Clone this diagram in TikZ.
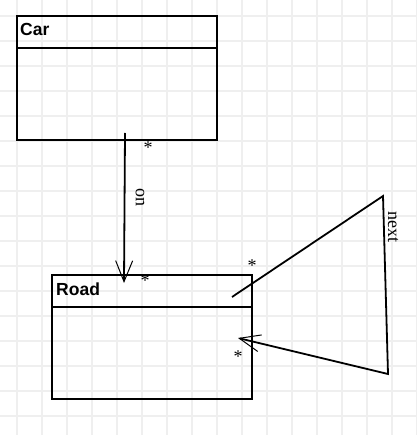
\documentclass[tikz,border=0pt]{standalone}
\usepackage{fontspec}
\setmainfont{Liberation Serif}
\newfontfamily\umlsans{Liberation Sans}
\usetikzlibrary{arrows.meta}
\definecolor{gridgray}{RGB}{239,239,239}
\tikzset{umlbox/.style={draw, line width=2pt, minimum width=200pt, minimum height=124pt, inner sep=0pt, anchor=north west},
         umltitle/.style={anchor=base west, inner sep=0pt, font=\umlsans\bfseries\fontsize{17.5}{20}\selectfont},
         umlsep/.style={line width=2pt},
         assoc/.style={line width=1.8pt, -{Straight Barb[length=21pt, width=17pt, line width=1pt]}},
         rolelabel/.style={inner sep=0pt, rotate=-90, font=\fontsize{18}{20}\selectfont},
         multlabel/.style={inner sep=0pt, anchor=base, font=\fontsize{18}{20}\selectfont}}

\begin{document}
\begin{tikzpicture}[x=1pt, y=-1pt]
  \useasboundingbox (0,0) rectangle (416,435);
  %
  % background grid
  \foreach \gx in {17,42,...,417}
    \draw[gridgray, line width=1.6pt] (\gx,0) -- (\gx,435);
  \foreach \gy in {16,41,...,416}
    \draw[gridgray, line width=1.6pt] (0,\gy) -- (416,\gy);
  %
  % the two classes
  \node[umlbox] (car) at (16,15) {};
  \node[umlbox] (road) at (51,274) {};
  \node[umltitle] (cartitle) at (20,36) {Car};
  \node[umltitle] (roadtitle) at (56,295) {Road};
  \draw[umlsep] ([yshift=-33pt]car.north west) -- ([yshift=-33pt]car.north east);
  \draw[umlsep] ([yshift=-33pt]road.north west) -- ([yshift=-33pt]road.north east);
  %
  % association car -> road
  \draw[assoc] ([xshift=8pt, yshift=8pt]car.south) -- ([xshift=-28pt, yshift=-9pt]road.north);
  \node[rolelabel] (onlabel) at (140,198) {on};
  \node[multlabel] (carmult) at (148,154) {*};
  \node[multlabel] (roadmult) at (145,286) {*};
  %
  % self association road -> road
  \coordinate (nexttop) at (383,196);
  \coordinate (nextbottom) at (388,374);
  \draw[assoc] ([xshift=-21pt, yshift=-23pt]road.north east) -- (nexttop) -- (nextbottom)
               -- ([xshift=-15pt, yshift=-1pt]road.east);
  \node[rolelabel] (nextlabel) at (393,227) {next};
  \node[multlabel] (nextmulta) at (252,271) {*};
  \node[multlabel] (nextmultb) at (238,362) {*};
\end{tikzpicture}
\end{document}
